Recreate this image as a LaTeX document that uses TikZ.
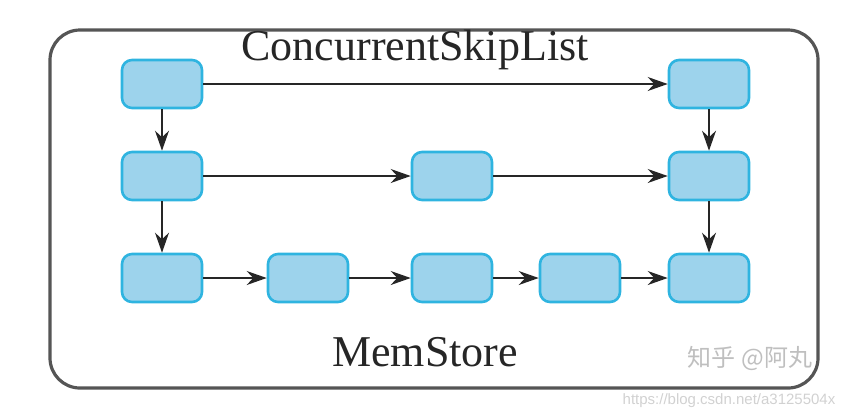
\documentclass[tikz,border=0pt]{standalone}
\usepackage{fontspec}
\setmainfont{Liberation Serif}
\newfontfamily\cjk{Noto Sans CJK SC}
\newfontfamily\wmfont{Liberation Sans}
\usetikzlibrary{arrows.meta,positioning}

\definecolor{cellfill}{HTML}{9DD3EC}
\definecolor{celledge}{HTML}{2FB4E0}
\definecolor{framegray}{HTML}{555555}

\tikzset{
  cell/.style={draw=celledge, fill=cellfill, line width=1.3pt, rounded corners=5pt,
    minimum width=40pt, minimum height=24pt, inner sep=0pt},
  link/.style={-{Stealth[length=10pt,width=7pt]}, line width=0.8pt, black!85},
  title/.style={font=\fontsize{22}{26}\selectfont, text=black!85},
}

\begin{document}
\begin{tikzpicture}[x=0.5pt, y=-0.5pt]
    \useasboundingbox (0,0) rectangle (849,419);

    % Frame
    \draw[framegray, line width=1.6pt, rounded corners=15pt] (50,30) rectangle (818,388);
    \node[title] (top) at (415,50) {ConcurrentSkipList};
    \node[title] (bottom) at (425,352) {MemStore};

    % Level 1
    \node[cell] (a1) at (162,84) {};
    \node[cell] (a5) at (709,84) {};

    % Level 2
    \node[cell] (b1) at (162,176) {};
    \node[cell] (b3) at (452,176) {};
    \node[cell] (b5) at (709,176) {};

    % Level 3
    \node[cell] (c1) at (162,278) {};
    \node[cell] (c2) at (308,278) {};
    \node[cell] (c3) at (452,278) {};
    \node[cell] (c4) at (580,278) {};
    \node[cell] (c5) at (709,278) {};

    % Forward links
    \draw[link] (a1) -- (a5);
    \draw[link] (b1) -- (b3);
    \draw[link] (b3) -- (b5);
    \foreach \s/\t in {c1/c2, c2/c3, c3/c4, c4/c5}
        \draw[link] (\s) -- (\t);

    % Down links
    \draw[link] (a1) -- (b1);
    \draw[link] (b1) -- (c1);
    \draw[link] (a5) -- (b5);
    \draw[link] (b5) -- (c5);

    % Watermarks
    \node[text=black!25, font=\cjk\fontsize{12}{14}\selectfont] (wm) at (750,358) {知乎 @阿丸};
    \node[text=black!18, font=\wmfont\fontsize{7.5}{9}\selectfont] (url) at (729,401) {https://blog.csdn.net/a3125504x};
\end{tikzpicture}
\end{document}
